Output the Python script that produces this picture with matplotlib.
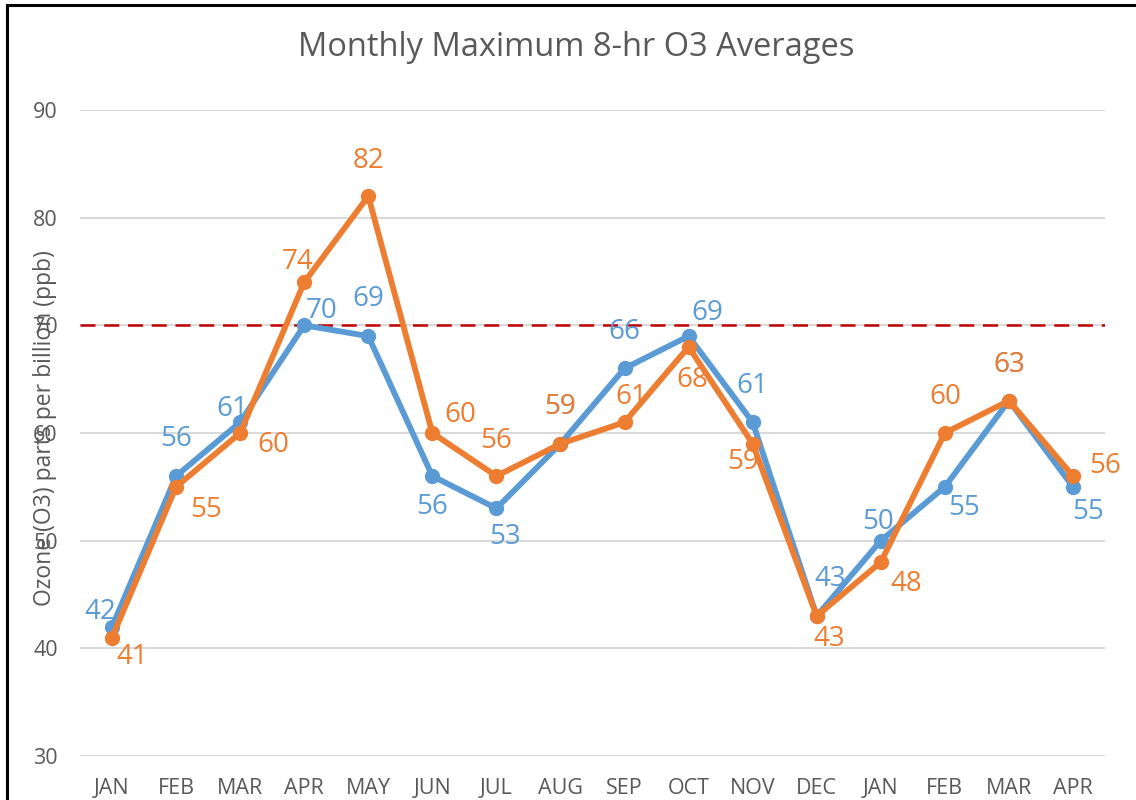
import matplotlib
matplotlib.use("Agg")
import matplotlib.pyplot as plt
from matplotlib.patches import Rectangle

months = ["JAN", "FEB", "MAR", "APR", "MAY", "JUN", "JUL", "AUG",
          "SEP", "OCT", "NOV", "DEC", "JAN", "FEB", "MAR", "APR"]
blue_vals = [42, 56, 61, 70, 69, 56, 53, 59, 66, 69, 61, 43, 50, 55, 63, 55]
orange_vals = [41, 55, 60, 74, 82, 60, 56, 59, 61, 68, 59, 43, 48, 60, 63, 56]
standard = 70
y_ticks = [30, 40, 50, 60, 70, 80, 90]

# label offsets in pixels (dx, dy up)
blue_off = [(-12, 15), (0, 37), (-8, 13), (17, 14), (0, 37), (0, -31), (9, -29), (0, 37),
            (0, 36), (19, 23), (0, 36), (13, 37), (-3, 19), (19, -21), (0, 36), (15, -25)]
orange_off = [(20, -19), (30, -23), (33, -12), (-7, 20), (0, 35), (28, 18), (0, 35), (0, 37),
              (7, 25), (4, -33), (-10, -18), (12, -23), (25, -22), (0, 36), (0, 36), (32, 10)]

BLUE = "#5B9BD5"
ORANGE = "#ED7D31"
GRAY = "#595959"
FONT = "Open Sans"

plt.rcParams['font.family'] = [FONT, 'DejaVu Sans']

DPI = 100
fig = plt.figure(figsize=(11.36, 8.0), dpi=DPI)
W, H = 1136, 800
ax = fig.add_axes([80 / W, 1 - 756 / H, (1105 - 80) / W, (756 - 110) / H])

x = list(range(len(months)))
ax.set_xlim(-0.5, len(months) - 0.5)
ax.set_ylim(30, 90)
ax.set_yticks(y_ticks)
ax.set_xticks(x)
ax.set_xticklabels(months)
ax.grid(axis='y', color="#D9D9D9", linewidth=1.5, zorder=0)
ax.set_axisbelow(True)
for s in ax.spines.values():
    s.set_visible(False)
ax.tick_params(axis='both', length=0, labelsize=15.5, labelcolor=GRAY)
ax.tick_params(axis='y', pad=16)
ax.tick_params(axis='x', pad=16)

ax.axhline(standard, color="#C00000", linewidth=1.8, dashes=(6, 3.5), zorder=2)

ax.plot(x, blue_vals, color=BLUE, linewidth=4.2, marker='o', markersize=10, zorder=3,
        solid_joinstyle='round')
ax.plot(x, orange_vals, color=ORANGE, linewidth=4.2, marker='o', markersize=10, zorder=4,
        solid_joinstyle='round')

pt = 72.0 / DPI
for xi, v, (dx, dy) in zip(x, blue_vals, blue_off):
    ax.annotate(str(v), (xi, v), xytext=(dx * pt, dy * pt), textcoords='offset points',
                ha='center', va='center', fontsize=20, color=BLUE, zorder=5)
for xi, v, (dx, dy) in zip(x, orange_vals, orange_off):
    ax.annotate(str(v), (xi, v), xytext=(dx * pt, dy * pt), textcoords='offset points',
                ha='center', va='center', fontsize=20, color=ORANGE, zorder=6)

ax.set_ylabel("Ozone (O3) parts per billion (ppb)", fontsize=16.5, color=GRAY,
              va='center')
ax.yaxis.set_label_coords((45 - 80) / (1105 - 80), (756 - 428) / (756 - 110))

fig.text(576 / W, 1 - 48 / H, "Monthly Maximum 8-hr O3 Averages", ha='center', va='center',
         fontsize=23.5, color=GRAY)

fig.patches.append(Rectangle((7 / W, -0.1), 1.2, 1 - 5 / H + 0.1, transform=fig.transFigure,
                             fill=False, edgecolor='black', linewidth=2.2))

fig.savefig("out.png", dpi=DPI)
